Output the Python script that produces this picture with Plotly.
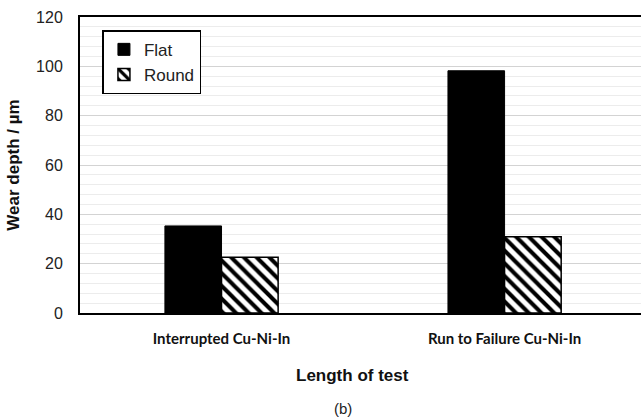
import plotly.graph_objects as go

categories = ["Interrupted Cu-Ni-In", "Run to Failure Cu-Ni-In"]
flat_values = [35.3, 98.2]
round_values = [22.6, 30.9]
y_ticks = [0, 20, 40, 60, 80, 100, 120]

fig = go.Figure()
fig.add_trace(go.Bar(
    x=categories, y=flat_values, name="Flat",
    marker=dict(color="black", line=dict(color="black", width=1)),
))
fig.add_trace(go.Bar(
    x=categories, y=round_values, name="Round",
    marker=dict(color="white", line=dict(color="black", width=1.5),
                pattern=dict(shape="\\", size=9, solidity=0.45,
                             fgcolor="black", bgcolor="white", fillmode="replace")),
))

fig.update_layout(
    width=641, height=418,
    margin=dict(l=80, r=0, t=17, b=105),
    paper_bgcolor="white", plot_bgcolor="white",
    barmode="group", bargap=0.6, bargroupgap=0,
    showlegend=True,
    legend=dict(x=0.04, y=0.955, xanchor="left", yanchor="top",
                bordercolor="black", borderwidth=1.5, bgcolor="white",
                font=dict(family="Liberation Sans, Arial", size=17, color="#222"),
                itemwidth=30, tracegroupgap=2),
    xaxis=dict(
        type="category", range=[-0.5, 1.482],
        showline=True, linecolor="black", linewidth=2, mirror=True,
        showgrid=False, ticks="", ticklabelstandoff=11,
        tickfont=dict(family="Lato", size=15, color="#111", weight="bold"),
        fixedrange=True,
    ),
    yaxis=dict(
        range=[0, 120], tickvals=y_ticks,
        showline=True, linecolor="black", linewidth=2, mirror=False,
        showgrid=True, gridcolor="#d3d3d3", gridwidth=1.2,
        minor=dict(dtick=4, showgrid=True, gridcolor="#ececec", gridwidth=1),
        zeroline=False, ticks="", ticklabelstandoff=12,
        tickfont=dict(family="Liberation Sans, Arial", size=16, color="#222"),
        title=dict(text="<b>Wear depth / µm</b>", standoff=12,
                   font=dict(family="Liberation Sans, Arial", size=17, color="#111")),
    ),
    annotations=[
        dict(text="<b>Length of test</b>", x=352, y=418 - 375, xref="paper", yref="paper",
             xanchor="center", yanchor="middle",
             showarrow=False, font=dict(family="Liberation Sans, Arial", size=17, color="#111")),
        dict(text="(b)", x=343, y=418 - 408, xref="paper", yref="paper",
             xanchor="center", yanchor="middle",
             showarrow=False, font=dict(family="Liberation Sans, Arial", size=15, color="#222")),
    ],
)

# convert pixel positions of annotations into paper coordinates
pw = 641 - 80
ph = 418 - 17 - 105
for a in fig.layout.annotations:
    a.x = (a.x - 80) / pw
    a.y = (a.y - 105) / ph

fig.write_html("out.html")
